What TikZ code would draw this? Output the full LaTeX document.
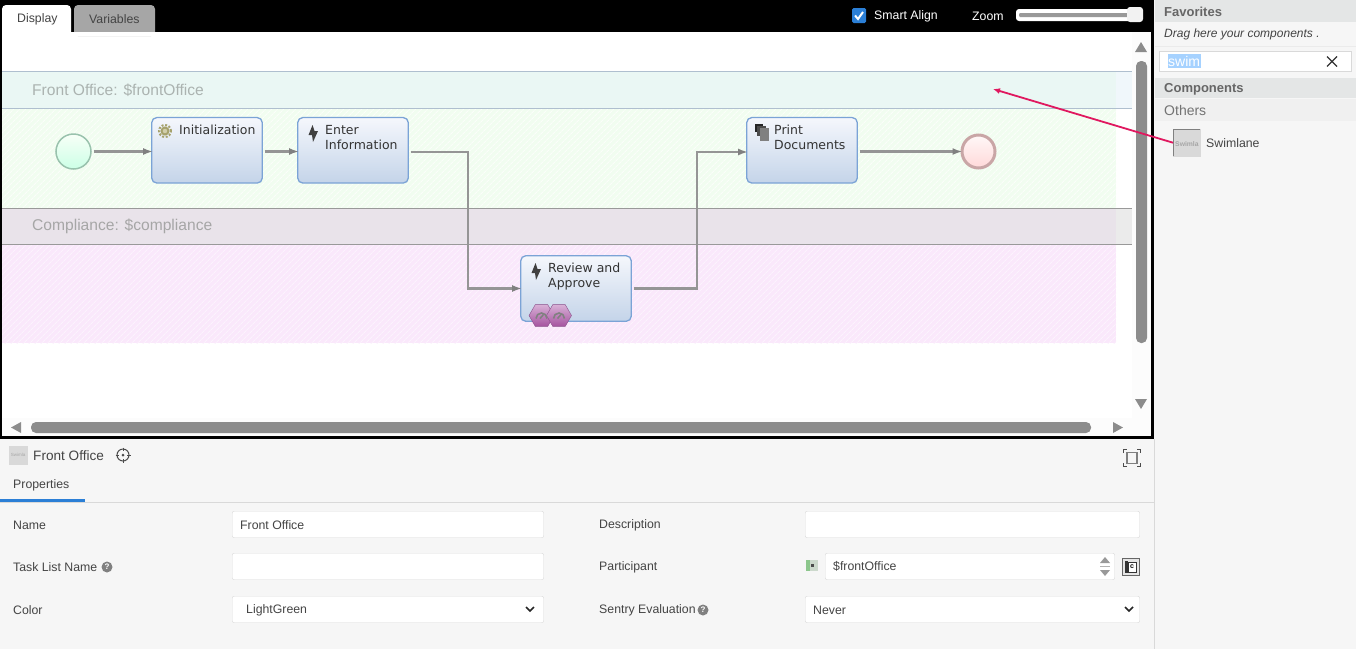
\documentclass[tikz,border=0pt]{standalone}
\usepackage{fontspec}
\setmainfont{Liberation Sans}
\newfontfamily\flowfont{DejaVu Sans}
\usetikzlibrary{arrows.meta,shapes.geometric,patterns.meta}

\definecolor{paneBg}{HTML}{F6F6F6}
\definecolor{paneRule}{HTML}{D9D9D9}
\definecolor{barGray}{HTML}{8C8C8C}
\definecolor{headGray}{HTML}{E4E6E6}
\definecolor{labelInk}{HTML}{444444}
\definecolor{titleInk}{HTML}{666666}
\definecolor{laneInk}{HTML}{ABB3B0}
\definecolor{flowGray}{HTML}{959595}
\definecolor{taskEdge}{HTML}{7BA3D6}
\definecolor{pinkArrow}{HTML}{E0185F}
\definecolor{blueLine}{HTML}{2B7FD6}
\definecolor{frontHeadFill}{HTML}{EAF7F4}
\definecolor{frontHeadEnd}{HTML}{F0F7FB}
\definecolor{frontBodyFill}{HTML}{F1FDF0}
\definecolor{compHeadFill}{HTML}{E9E3EA}
\definecolor{compHeadEnd}{HTML}{EBEBEB}
\definecolor{compBodyFill}{HTML}{FAE8FB}
\definecolor{taskTop}{HTML}{F5F7FC}
\definecolor{taskBottom}{HTML}{C4D4E9}
\definecolor{hexTop}{HTML}{D8B0D6}
\definecolor{hexBottom}{HTML}{A5539F}
\definecolor{hexEdge}{HTML}{8A4F8A}

\tikzset{
  ui/.style={inner sep=0pt, anchor=west, text=labelInk, font=\fontsize{12.3}{14}\selectfont},
  uititle/.style={ui, text=titleInk, font=\fontsize{13}{16}\selectfont\bfseries},
  lanetitle/.style={ui, text=laneInk, font=\fontsize{15.6}{18}\selectfont},
  lanebody/.style={inner sep=0pt, anchor=north west, fill=#1},
  hatch/.style={postaction={pattern={Lines[angle=45,distance=4pt,line width=1pt]}, pattern color=#1}},
  inputbox/.style={draw=paneRule, fill=white, rounded corners=2pt, inner sep=0pt, minimum height=26.5pt, anchor=north west},
  task/.style={draw=taskEdge, line width=1.3pt, rounded corners=5pt, top color=taskTop, bottom color=taskBottom,
    minimum width=110.5pt, minimum height=65.5pt, inner sep=0pt},
  tasktext/.style={inner sep=0pt, anchor=north west, align=left, text=black!80, font=\fontsize{12.5}{15}\flowfont},
  flow/.style={draw=flowGray, line width=2.4pt, shorten <=2pt, shorten >=-2pt, -{Latex[length=10pt,width=7pt,color=black!50]}},
  event/.style={circle, minimum size=35pt, inner sep=0pt},
  hexa/.style={regular polygon, regular polygon sides=6, minimum size=25pt, inner sep=0pt, draw=hexEdge, top color=hexTop, bottom color=hexBottom},
  thumb/.style={inner sep=0pt, fill=black!15, draw=black!15},
  scrollbar/.style={fill=barGray, rounded corners=5pt},
  bolt/.pic={\fill[black!75] (-0.5,-8.5) -- (-4.5,1.5) -- (-1,1.5) -- (0,8.5) -- (5,-2.5) -- (1.5,-2.5) -- cycle;},
  gear/.pic={
    \draw[draw=black!30!yellow!50!gray, line width=2pt, dash pattern=on 2pt off 1.6pt] (0,0) circle (6pt);
    \draw[draw=black!30!yellow!50!gray, fill=yellow!30!gray!60, line width=2pt] (0,0) circle (3.5pt);
  },
  help/.pic={
    \fill[black!50] (0,0) circle (5.5pt);
    \node[inner sep=0pt, text=white, font=\fontsize{8}{8}\selectfont\bfseries] {?};
  },
  gauge/.pic={
    \draw[black!50, line width=1.6pt] (-5.5,3) arc (180:360:5.5);
    \draw[black!50, line width=1.6pt] (-1.5,3) -- (2,-1);
  },
}

\begin{document}
\begin{tikzpicture}[x=1pt, y=-1pt]
  \useasboundingbox (0,0) rectangle (1356,649);

  % Panels behind everything
  \fill[paneBg] (0,0) rectangle (1356,649);
  \fill[black] (0,0) rectangle (1154,439);
  \fill[white] (2,32) rectangle (1151,436);
  \fill[black!1] (1132,32) rectangle (1151,436);
  \fill[black!1] (2,418) rectangle (1151,436);
  \draw[paneRule] (1154.5,439) -- (1154.5,649);

  % Tabs and toolbar
  \fill[white, rounded corners=4pt] (2,36) -- (2,5) -- (71,5) -- (71,36) -- cycle;
  \fill[black!35, rounded corners=4pt] (74,36) -- (74,5) -- (155,5) -- (155,36) -- cycle;
  \fill[white] (2,32) rectangle (155,36);
  \node[ui] (tabDisplay) at (17,19.5) {Display};
  \node[ui] (tabVariables) at (89,19.5) {Variables};
  \fill[blueLine, rounded corners=1.5pt] (852,8) rectangle (866,23);
  \draw[white, line width=2pt] (855,15.5) -- (858,19) -- (863,12);
  \node[ui, text=white] (alignText) at (874,16) {Smart Align};
  \node[ui, text=white] (zoomText) at (972,16) {Zoom};
  \fill[white, rounded corners=3pt] (1016,9) rectangle (1140,21);
  \fill[black!40, rounded corners=1pt] (1019,13) rectangle (1130,17);
  \fill[black!5, rounded corners=3pt] (1127,7) rectangle (1143,22);

  % Front office lane
  \node[lanebody=frontHeadEnd, minimum width=1130pt, minimum height=36pt] (frontHead) at (2,71.5) {};
  \fill[frontHeadFill] (2,71.5) rectangle (1116,107.5);
  \node[lanebody=frontBodyFill, minimum width=1114pt, minimum height=100pt, hatch=white!70!frontBodyFill] (frontBody) at (2,108) {};
  \draw[blue!50!cyan!25!gray!50] (frontHead.north west) -- (frontHead.north east);
  \draw[blue!50!cyan!25!gray!50] (frontHead.south west) -- (frontHead.south east);
  \node[lanetitle] (frontTitle) at (32,90) {Front Office: \$frontOffice};

  % Compliance lane
  \node[lanebody=compHeadEnd, minimum width=1130pt, minimum height=35pt] (compHead) at (2,208.5) {};
  \fill[compHeadFill] (2,208.5) rectangle (1116,243.5);
  \node[lanebody=compBodyFill, minimum width=1114pt, minimum height=99pt, hatch=white!50!compBodyFill] (compBody) at (2,244) {};
  \draw[black!40] (compHead.north west) -- (compHead.north east);
  \draw[black!40] (compHead.south west) -- (compHead.south east);
  \node[lanetitle, text=black!35] (compTitle) at (32,226) {Compliance: \$compliance};

  % Process nodes
  \node[event, draw=green!50!cyan!40!black!40, line width=1.5pt, top color=green!3, bottom color=green!50!cyan!20] (start) at (73.5,151.5) {};
  \node[task] (init) at (207,150.3) {};
  \node[task] (enter) at (353,150.3) {};
  \node[task] (print) at (802,150.3) {};
  \node[task] (review) at (576,288.5) {};
  \node[event, draw=red!40!black!35, line width=3pt, minimum size=33pt, top color=red!3, bottom color=red!15] (finish) at (978.5,151.5) {};
  \node[tasktext] (initText) at (179,125) {Initialization};
  \node[tasktext] (enterText) at (325,125) {Enter\\Information};
  \node[tasktext] (printText) at (774,125) {Print\\Documents};
  \node[tasktext] (reviewText) at (548,263) {Review and\\Approve};
  \pic at (165,131) {gear};
  \pic at (313,133.5) {bolt};
  \pic at (536,271.5) {bolt};
  \fill[black!85] (755,124) rectangle (763,132);
  \fill[black!70] (757,126) rectangle (766,136);
  \fill[black!50] (760,128) rectangle (769,141);
  \node[hexa] (hexLeft) at (541.5,315.5) {};
  \node[hexa] (hexRight) at (559,315.5) {};
  \pic at (541.5,315.5) {gauge};
  \pic at (559,315.5) {gauge};

  % Connectors
  \coordinate (bendA) at (468,152);
  \coordinate (bendB) at (468,288.5);
  \coordinate (bendC) at (697,288.5);
  \coordinate (bendD) at (697,152);
  \draw[flow] (start) -- (init.west |- start);
  \draw[flow] (init.east |- start) -- (enter.west |- start);
  \draw[flow] (enter.east |- bendA) -- (bendA) -- (bendB) -- (review.west);
  \draw[flow] (review.east) -- (bendC) -- (bendD) -- (print.west |- bendD);
  \draw[flow] (print.east |- finish) -- (finish);

  % Scroll bars
  \fill[barGray] (1135,52) -- (1141,42) -- (1147,52) -- cycle;
  \fill[scrollbar] (1136,61) rectangle (1147,343);
  \fill[barGray] (1135,399) -- (1141,409) -- (1147,399) -- cycle;
  \fill[barGray] (21,422) -- (11,427.5) -- (21,433) -- cycle;
  \fill[scrollbar] (31,422) rectangle (1091,433);
  \fill[barGray] (1113,422) -- (1123,427.5) -- (1113,433) -- cycle;

  % Right side panel
  \fill[headGray] (1155,0) rectangle (1356,22);
  \node[uititle] (favTitle) at (1164,11.5) {Favorites};
  \node[ui, font=\fontsize{12}{14}\selectfont\itshape] (favHint) at (1164,34) {Drag here your components .};
  \draw[black!8] (1155,46.5) -- (1356,46.5);
  \node[draw=paneRule, fill=white, inner sep=0pt, minimum width=192pt, minimum height=20pt, anchor=north west] (searchBox) at (1159,51) {};
  \fill[blue!50!cyan!35] (1168,54) rectangle (1201,68);
  \node[ui, text=white, font=\fontsize{14}{16}\selectfont] (searchText) at (1168,61) {swim};
  \draw[black!80, line width=1.3pt] (1327,56.5) -- (1337,66.5) (1337,56.5) -- (1327,66.5);
  \fill[headGray] (1155,78) rectangle (1356,98);
  \node[uititle] (compsTitle) at (1164,89) {Components};
  \fill[black!6] (1155,99) rectangle (1356,121);
  \node[ui, text=black!55, font=\fontsize{14}{16}\selectfont] (othersText) at (1164,110) {Others};
  \node[thumb, minimum size=27pt, anchor=north west] (laneThumb) at (1173,129) {};
  \draw[black!50] (laneThumb.south west) -- (laneThumb.north west) -- (laneThumb.north east);
  \node[ui, text=black!35, font=\fontsize{6.8}{8}\selectfont\bfseries] (thumbText) at (1175,144) {Swimla};
  \node[ui] (laneText) at (1206,143) {Swimlane};

  % Drag hint
  \coordinate (dropPoint) at (993,89);
  \draw[pinkArrow, line width=1.8pt, -{Latex[length=7pt,width=6pt]}] (laneThumb.west) -- (dropPoint);

  % Properties header
  \node[thumb, minimum size=18pt, anchor=north west] (headThumb) at (9,446) {};
  \node[inner sep=0pt, text=black!35, font=\fontsize{4.5}{5}\selectfont] (headThumbText) at (headThumb.center) {Swimla};
  \node[ui, font=\fontsize{13.6}{16}\selectfont] (headText) at (33,455.5) {Front Office};
  \draw[black!70, line width=1pt] (123,455) circle (6pt);
  \fill[black!70] (123,455) circle (1.5pt);
  \draw[black!70, line width=1pt] (123,447.5) -- (123,451) (123,459) -- (123,462.5) (115.5,455) -- (119,455) (127,455) -- (130.5,455);
  \draw[black!70, line width=1pt] (1123.5,453) -- (1123.5,449.5) -- (1127,449.5) (1137,449.5) -- (1140.5,449.5) -- (1140.5,453)
    (1140.5,463) -- (1140.5,466.5) -- (1137,466.5) (1127,466.5) -- (1123.5,466.5) -- (1123.5,463);
  \draw[black!50, line width=1.5pt] (1127,452.5) rectangle (1137,463.5);
  \node[ui] (propsTab) at (13,485.5) {Properties};
  \fill[paneRule] (0,502) rectangle (1154,503);
  \fill[blueLine] (0,498.5) rectangle (85,502);

  % Left form column
  \node[ui] (nameLabel) at (13,525) {Name};
  \node[ui] (taskLabel) at (13,567) {Task List Name};
  \pic at (107,567) {help};
  \node[ui] (colorLabel) at (13,610) {Color};
  \node[inputbox, minimum width=311.5pt] (nameBox) at (232,511) {};
  \node[inputbox, minimum width=311.5pt] (taskBox) at (232,553) {};
  \node[inputbox, minimum width=311.5pt] (colorBox) at (232,596) {};
  \node[ui] (nameValue) at (240,525) {Front Office};
  \node[ui] (colorValue) at (246,610.5) {LightGreen};
  \draw[black!85, line width=1.5pt] (526,607) -- (530,611) -- (534,607);

  % Right form column
  \node[ui] (descLabel) at (599,525.5) {Description};
  \node[ui] (partLabel) at (599,567.5) {Participant};
  \node[ui] (sentryLabel) at (599,610) {Sentry Evaluation};
  \pic at (703,610) {help};
  \node[inputbox, minimum width=334.5pt] (descBox) at (805,511) {};
  \node[inputbox, minimum width=289.5pt] (partBox) at (825,553) {};
  \node[inputbox, minimum width=334.5pt] (sentryBox) at (805,596) {};
  \fill[green!50!black!45] (806,560) rectangle (810,571);
  \fill[green!25!black!20] (810,560) rectangle (818,571);
  \fill[black!70] (811,564) rectangle (814,567);
  \node[ui] (partValue) at (833,566) {\$frontOffice};
  \node[ui] (sentryValue) at (813,610) {Never};
  \fill[black!40] (1100,563) -- (1105,557) -- (1110,563) -- cycle;
  \draw[black!30] (1100,566.5) -- (1110,566.5);
  \fill[black!40] (1100,570) -- (1105,576) -- (1110,570) -- cycle;
  \draw[black!60, fill=black!10, line width=1pt] (1122.5,558.5) rectangle (1139.5,575.5);
  \fill[black!80] (1125,561) rectangle (1128,573);
  \draw[black!80, fill=white] (1128,562) rectangle (1136,572);
  \node[inner sep=0pt, font=\fontsize{7}{7}\selectfont\bfseries] (partIcon) at (1132,567) {c};
  \draw[black!85, line width=1.5pt] (1125,607) -- (1129,611) -- (1133,607);
\end{tikzpicture}
\end{document}
